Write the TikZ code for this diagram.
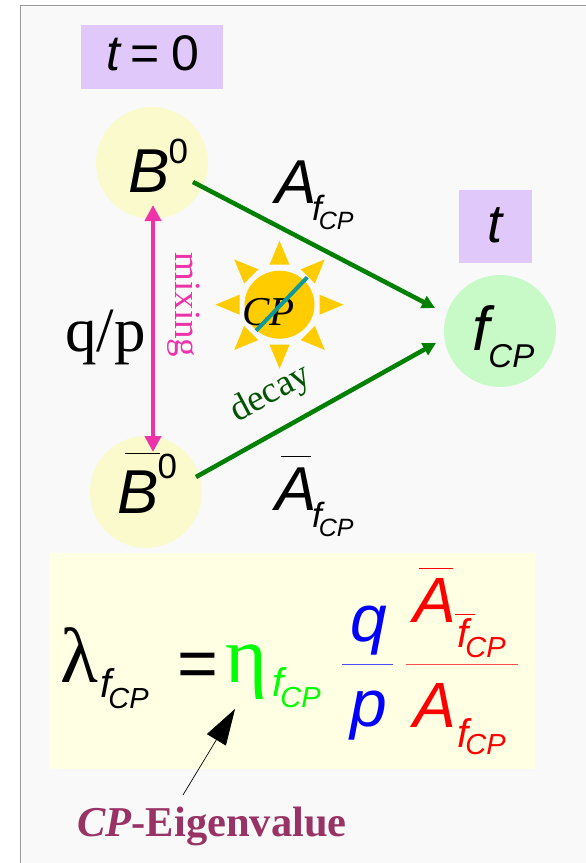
\documentclass[tikz,border=0pt]{standalone}
\usepackage{fontspec}
\setmainfont{Liberation Serif}
\setsansfont{Liberation Sans}
\usetikzlibrary{arrows.meta}
\definecolor{panelgray}{HTML}{F9F9F9}
\definecolor{lilac}{HTML}{E0C8FA}
\definecolor{paleyellow}{HTML}{FAFACC}
\definecolor{palegreen}{HTML}{C8FAC8}
\definecolor{creamy}{HTML}{FFFFE4}
\definecolor{ampgreen}{HTML}{008000}
\definecolor{mixpink}{HTML}{EE33AA}
\definecolor{sunyellow}{HTML}{FFCC00}
\definecolor{cpteal}{HTML}{0E9A9A}
\definecolor{eigenred}{HTML}{993366}
\newcommand{\fsize}[1]{\fontsize{#1}{#1}\selectfont}
\newcommand{\fcp}[3]{{\fsize{#1}f}\raisebox{-#3pt}{\hspace{-3pt}\fsize{#2}CP}}
\tikzset{
  sanstext/.style={anchor=base west, inner sep=0pt, font=\sffamily\itshape\fsize{62}},
  subtext/.style={anchor=base west, inner sep=0pt, font=\sffamily\itshape},
  seriftext/.style={inner sep=0pt, font=\fsize{37}},
  ball/.style={circle, minimum size=112pt, inner sep=0pt},
  timebox/.style={fill=lilac, inner sep=0pt, minimum height=#1},
  ampline/.style={ampgreen, line width=4.5pt, -{Triangle[length=13pt,width=13pt]}},
}
\begin{document}
\begin{tikzpicture}[x=1pt,y=-1pt]
  \useasboundingbox (0,0) rectangle (586,863);
  \fill[white] (0,0) rectangle (586,863);
  \draw[fill=panelgray, draw=gray!80, line width=1pt] (20.5,5.5) rectangle (590,870);
  \node[timebox=64pt, minimum width=142pt] (tzero) at (152,57) {};
  \node[timebox=73pt, minimum width=73pt] (tend) at (495.5,226.5) {};
  \node[ball, fill=paleyellow] (b) at (152,163) {};
  \node[ball, fill=paleyellow] (bbar) at (146,492) {};
  \node[ball, fill=palegreen] (fcp) at (500,331) {};
  \node[anchor=base west, inner sep=0pt, font=\sffamily\fsize{50}] (tzerotext) at (106,70) {\textit{t}\hspace{9pt}=\hspace{11pt}0};
  \node[anchor=base, inner sep=0pt, font=\sffamily\itshape\fsize{54}] (tendtext) at (495,242) {t};
  \node[sanstext] (btext) at (128,192) {B\raisebox{29pt}{\hspace{-1pt}\upshape\fsize{35}0}};
  \node[sanstext] (bbartext) at (117,513) {B\raisebox{35pt}{\hspace{-1pt}\upshape\fsize{35}0}};
  \node[sanstext] (ftext) at (472,350) {f\raisebox{-17pt}{\hspace{-1pt}\fsize{33}CP}};
  \draw[line width=1pt] (125,453) -- (160,453);
  \draw[ampline] ([shift={(41,19)}]b.center) -- ([shift={(-65,-23)}]fcp.center);
  \draw[ampline] ([shift={(50,-15)}]bbar.center) -- ([shift={(-64,12)}]fcp.center);
  \draw[mixpink, line width=4.5pt, {Triangle[length=16pt,width=16pt]}-{Triangle[length=16pt,width=16pt]}] ([shift={(1,42)}]b.center) -- ([shift={(7,-40)}]bbar.center);
  \node[sanstext] (ampa) at (275,203) {A};
  \node[subtext] (ampasub) at (312,220) {\fcp{35}{25}{9}};
  \node[sanstext] (ampbar) at (275,510) {A};
  \node[subtext] (ampbarsub) at (312,527) {\fcp{35}{25}{9}};
  \draw[line width=1pt] (281,456) -- (311,456);
  \node[anchor=base west, inner sep=0pt, font=\fsize{63}] (qoverp) at (65,351) {q/p};
  \node[seriftext, text=mixpink, rotate=-90] (mixing) at (184,305) {mixing};
  \node[seriftext, text=green!33!black, rotate=28] (decay) at (271,394) {decay};
  \begin{scope}[shift={(279.5,304.7)}]
    \foreach \ang in {0,45,...,315} {
      \fill[sunyellow, rotate=\ang] (-10,-40) -- (0,-64) -- (10,-40) -- cycle;
    }
    \fill[sunyellow] (0,0) ellipse (35 and 34);
  \end{scope}
  \node[inner sep=0pt, anchor=base west, font=\itshape\fsize{41}] (cp) at (242,325) {CP};
  \draw[cpteal, line width=4pt] (256,330.7) -- (307.3,277.3);
  \fill[creamy] (50,553) rectangle (535,769);
  \node[anchor=base west, inner sep=0pt, font=\fsize{78}] (lambda) at (60,682) {λ};
  \node[subtext] (lambdasub) at (100,697) {\fcp{40}{29}{11}};
  \node[anchor=base west, inner sep=0pt, font=\sffamily\fsize{70}] (equal) at (177,687) {=};
  \node[anchor=base west, inner sep=0pt, text=green, font=\fsize{80}] (eta) at (225,682) {η};
  \node[subtext, text=green] (etasub) at (272,696) {\fcp{40}{29}{11}};
  \node[sanstext, text=blue, font=\sffamily\itshape\fsize{66}] (q) at (350,641) {q};
  \node[sanstext, text=blue, font=\sffamily\itshape\fsize{66}] (p) at (350,726) {p};
  \draw[blue!70, line width=1pt] (342,664.5) -- (393,664.5);
  \node[sanstext, text=red, font=\sffamily\itshape\fsize{64}] (anum) at (413,622) {A};
  \node[subtext, text=red] (anumsub) at (457,647) {\fcp{40}{29}{10}};
  \draw[red, line width=0.7pt] (419,568.5) -- (453,568.5);
  \draw[red, line width=0.7pt] (455,614.5) -- (475,614.5);
  \draw[red!70, line width=1pt] (406,664.5) -- (518,664.5);
  \node[sanstext, text=red, font=\sffamily\itshape\fsize{64}] (aden) at (413,727) {A};
  \node[subtext, text=red] (adensub) at (457,747) {\fcp{40}{29}{7}};
  \node[anchor=base west, inner sep=0pt, text=eigenred, font=\bfseries\fsize{42.5}] (eigen) at (77,836) {\textit{CP}-Eigenvalue};
  \draw[line width=0.7pt, -{Triangle[length=36pt,width=22pt]}] ([shift={(106,-41)}]eigen.base west) -- ([shift={(10,27)}]eta.base west);
\end{tikzpicture}
\end{document}
